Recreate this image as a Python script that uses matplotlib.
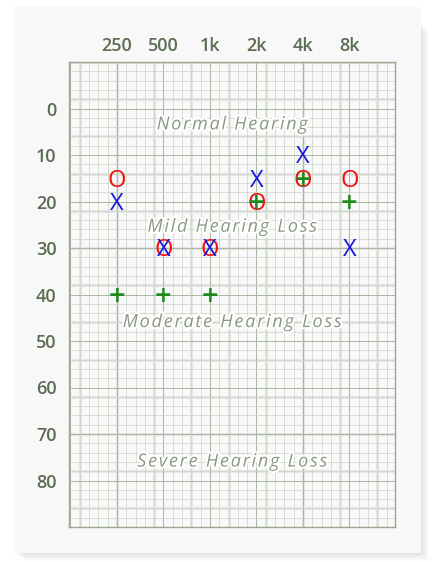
import matplotlib
matplotlib.use('Agg')
import matplotlib.pyplot as plt
import matplotlib.patheffects as pe
import matplotlib.transforms as mtransforms
from matplotlib.patches import Rectangle
import numpy as np

# audiogram data (dB HL)
freq_labels = ['250', '500', '1k', '2k', '4k', '8k']
right_air = [15, 30, 30, 20, 15, 15]   # red O
left_air = [20, 30, 30, 15, 10, 30]    # blue X
bone = [40, 40, 40, 20, 15, 20]        # green +

db_ticks = [0, 10, 20, 30, 40, 50, 60, 70, 80]

regions = ['Normal Hearing', 'Mild Hearing Loss', 'Moderate Hearing Loss', 'Severe Hearing Loss']
region_db = [3, 25, 45.5, 75.5]

W, H = 436, 562
fig = plt.figure(figsize=(W / 100, H / 100), dpi=100)
fig.patch.set_facecolor('white')

# paper with soft shadow
for i, a in enumerate([0.03, 0.04, 0.05, 0.07]):
    d = 8 - 2 * i
    fig.patches.append(Rectangle(((16 + d) / W, (H - 553 - d) / H), 405 / W, 530 / H,
                                 transform=fig.transFigure, facecolor='#7a7a7a',
                                 edgecolor='none', alpha=a, zorder=0))
fig.patches.append(Rectangle((14 / W, (H - 553) / H), 407 / W, 546 / H,
                             transform=fig.transFigure, facecolor='#f8f8f8',
                             edgecolor='none', zorder=1))

ax = fig.add_axes([69 / W, (H - 527) / H, 326 / W, 465 / H])
ax.set_facecolor('#f9f9f9')
ax.set_zorder(2)

x = np.arange(len(freq_labels))
ax.set_xlim(-1.03, 5.98)
ax.set_ylim(90, -10)

# paper texture bands
for xv in np.arange(-0.8, 6, 0.8):
    ax.axvline(xv, color='#e6e6e6', lw=2.2, zorder=0)
for yv in np.arange(-10, 90, 8):
    ax.axhline(yv, color='#e6e6e6', lw=2.2, zorder=0)

# minor / major grid
for xv in np.arange(-1, 6.01, 0.2):
    major = abs(xv - round(xv)) < 1e-6
    ax.axvline(xv, color='#abb9a4' if major else '#cdd6c8', lw=0.75 if major else 0.55, zorder=1)
for yv in np.arange(-10, 90.01, 2):
    major = abs(yv / 10 - round(yv / 10)) < 1e-6
    ax.axhline(yv, color='#abb9a4' if major else '#cdd6c8', lw=0.75 if major else 0.55, zorder=1)

for s in ax.spines.values():
    s.set_color('#9aa892')
    s.set_linewidth(1.0)

ax.xaxis.tick_top()
ax.set_xticks(x)
ax.set_xticklabels(freq_labels)
ax.set_yticks(db_ticks)
ax.set_yticklabels([str(v) for v in db_ticks])
ax.tick_params(length=0, labelsize=13, labelcolor='#5b6d52')
ax.tick_params(axis='x', pad=5)
ax.tick_params(axis='y', pad=9)
for lab in ax.get_xticklabels() + ax.get_yticklabels():
    lab.set_fontfamily('Open Sans')
    lab.set_fontweight('semibold')

# region labels with letter spacing
renderer = fig.canvas.get_renderer()
glow = [pe.withStroke(linewidth=3, foreground='white')]
rstyle = dict(fontsize=13, style='italic', family='Open Sans', fontweight='normal',
              color='#8a9882')


def char_width(ch):
    t1 = fig.text(0, 0, '|' + ch + '|', **rstyle)
    t2 = fig.text(0, 0, '||', **rstyle)
    w = t1.get_window_extent(renderer).width - t2.get_window_extent(renderer).width
    t1.remove()
    t2.remove()
    return w


def spaced_text(xd, yd, s, spacing):
    widths = [char_width(c) for c in s]
    total = sum(widths) + spacing * (len(s) - 1)
    cx, cy = ax.transData.transform((xd, yd))
    px = cx - total / 2
    for c, w in zip(s, widths):
        if c != ' ':
            fig.text(px, cy, c, transform=mtransforms.IdentityTransform(), ha='left',
                     va='center_baseline', zorder=5, path_effects=glow, **rstyle)
        px += w + spacing


for name, yv in zip(regions, region_db):
    spaced_text(2.48, yv, name, 1.8)

# markers drawn as glyphs, centred on the data point
def shifted(dy):
    return mtransforms.offset_copy(ax.transData, fig=fig, x=0, y=dy, units='points')

fs = 17
for xi, v in zip(x, right_air):
    ax.text(xi, v, 'O', color='#ee1111', ha='center', va='baseline', fontsize=fs,
            family='Open Sans', transform=shifted(-0.714 * fs / 2), zorder=4)
for xi, v in zip(x, left_air):
    ax.text(xi, v, 'X', color='#1515dd', ha='center', va='baseline', fontsize=fs,
            family='Open Sans', transform=shifted(-0.714 * fs / 2), zorder=4)
fp = 21
for xi, v in zip(x, bone):
    ax.text(xi, v, '+', color='#1b8a1b', ha='center', va='baseline', fontsize=fp,
            family='Open Sans', fontweight='semibold', transform=shifted(-0.355 * fp), zorder=4)

fig.savefig('out.png', dpi=100, facecolor=fig.get_facecolor())
